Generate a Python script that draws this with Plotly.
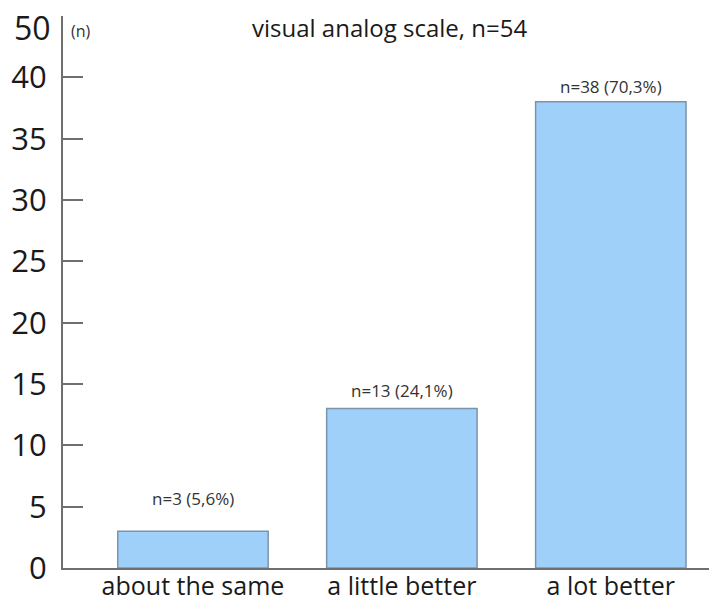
import plotly.graph_objects as go

categories = ["about the same", "a little better", "a lot better"]
counts = [3, 13, 38]
percent_labels = ["5,6%", "24,1%", "70,3%"]
y_tick_values = [0, 5, 10, 15, 20, 25, 30, 35, 40]
title_text = "visual analog scale, n=54"

FONT = "Open Sans"
AXIS_COLOR = "#6f6f6f"

fig = go.Figure()
fig.add_trace(go.Bar(
    x=categories,
    y=counts,
    width=0.72,
    marker=dict(color="#9fd0fa", line=dict(color="#7d93aa", width=1.5)),
    hoverinfo="skip",
))

# value labels above each bar
label_shifts = [33, 18, 15]
for cat, n, pct, dy in zip(categories, counts, percent_labels, label_shifts):
    fig.add_annotation(
        x=cat, y=n, text=f"n={n} ({pct})", showarrow=False,
        yanchor="middle", yshift=dy,
        font=dict(family=FONT, size=17, color="#333333"),
    )

# top-of-axis label and unit marker
fig.add_annotation(
    xref="paper", yref="y", x=0, y=45, xanchor="right", yanchor="middle",
    xshift=-10, yshift=-11, text="50", showarrow=False,
    font=dict(family=FONT, size=32, color="#1a1a1a"),
)
fig.add_annotation(
    xref="paper", yref="y", x=0, y=45, xanchor="left", yanchor="middle",
    xshift=6, yshift=-15, text="(n)", showarrow=False,
    font=dict(family=FONT, size=16, color="#333333"),
)
fig.add_annotation(
    xref="paper", yref="paper", x=0.5, y=1, xanchor="center", yanchor="middle",
    xshift=3, yshift=-11, text=title_text, showarrow=False,
    font=dict(family=FONT, size=24, color="#1a1a1a"),
)

fig.update_layout(
    width=709, height=601,
    margin=dict(l=63, r=0, t=16, b=33, autoexpand=False),
    plot_bgcolor="white", paper_bgcolor="white",
    showlegend=False,
    font=dict(family=FONT),
    xaxis=dict(
        range=[-0.622, 2.47],
        automargin=False,
        showline=True, linecolor=AXIS_COLOR, linewidth=2,
        ticks="", showgrid=False, zeroline=False,
        ticklabelstandoff=-5,
        tickfont=dict(family=FONT, size=25, color="#1a1a1a"),
    ),
    yaxis=dict(
        range=[0, 45],
        automargin=False,
        tickvals=y_tick_values,
        showline=True, linecolor=AXIS_COLOR, linewidth=2,
        ticks="inside", ticklen=20, tickwidth=2, tickcolor=AXIS_COLOR,
        ticklabelstandoff=8,
        showgrid=False, zeroline=False,
        tickfont=dict(family=FONT, size=31, color="#1a1a1a"),
    ),
)

fig.write_html("out.html")
